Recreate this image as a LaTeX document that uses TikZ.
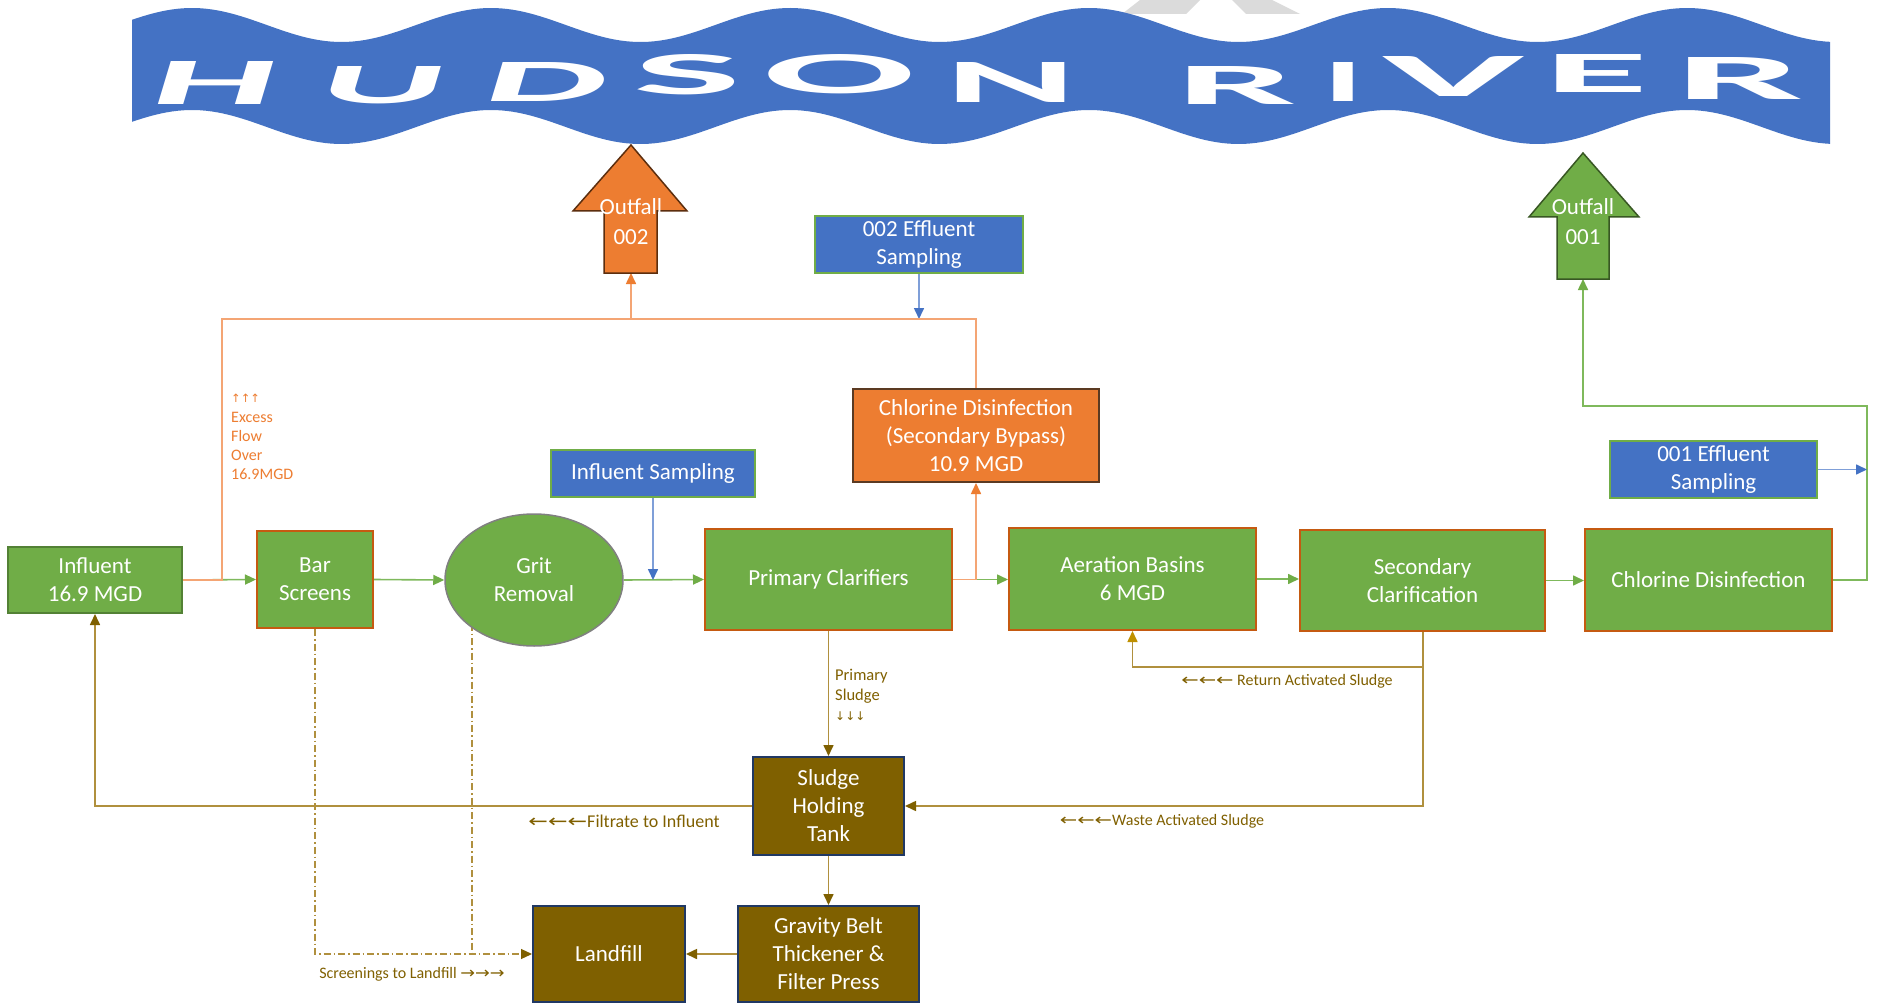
\documentclass[tikz,border=0pt]{standalone}
\usepackage{fontspec}
\setmainfont{Carlito}
\newfontfamily\symfont{DejaVu Sans}
\usetikzlibrary{arrows.meta,backgrounds,calc,shapes.geometric}

\definecolor{ogreen}{HTML}{70AD47}
\definecolor{oblue}{HTML}{4472C4}
\definecolor{oorange}{HTML}{ED7D31}
\definecolor{obrown}{HTML}{7F6000}
\definecolor{rustb}{HTML}{C55A11}
\definecolor{navyb}{HTML}{203864}
\definecolor{dgreen}{HTML}{538135}
\definecolor{lgreen}{HTML}{7FB95C}
\definecolor{lorange}{HTML}{F4A574}
\definecolor{lblue}{HTML}{7F9FD8}
\definecolor{goldl}{HTML}{B0903E}
\definecolor{goldt}{HTML}{806000}
\definecolor{goldtip}{HTML}{BF9000}
\definecolor{bypb}{HTML}{5B3A22}
\definecolor{o2b}{HTML}{5C2E0E}
\definecolor{o1b}{HTML}{385723}

\newcommand{\larr}{{\symfont\scalebox{1.3}[1]{←←←}}}
\newcommand{\rarr}{{\symfont\scalebox{1.1}[1]{→→→}}}

\begin{document}
\begin{tikzpicture}[x=1pt,y=-1pt,
  box/.style={rectangle, inner sep=0pt, align=center, text=white, font=\fontsize{23}{28}\selectfont},
  gbox/.style={box, fill=ogreen, draw=rustb, line width=2pt},
  bbox/.style={box, fill=oblue, draw=ogreen, line width=1.5pt},
  obox/.style={box, fill=oorange, draw=bypb, line width=2pt},
  brbox/.style={box, fill=obrown, draw=navyb, line width=2pt},
  tipg/.style={-{Triangle[length=11pt,width=10pt,color=ogreen]}},
  gline/.style={draw=lgreen, line width=1.6pt, tipg},
  oline/.style={draw=lorange, line width=1.6pt},
  otip/.style={oline, -{Triangle[length=11pt,width=10pt,color=oorange]}},
  bline/.style={draw=lblue, line width=1.6pt, -{Triangle[length=11pt,width=10pt,color=oblue]}},
  brline/.style={draw=goldl, line width=1.6pt},
  brtip/.style={brline, -{Triangle[length=11pt,width=10pt,color=obrown]}},
  ddline/.style={draw=goldl, line width=1.2pt, dash pattern=on 7pt off 3pt on 1.5pt off 3pt},
  lbl/.style={inner sep=0pt, text=goldt, font=\fontsize{16}{19}\selectfont},
  lblbig/.style={lbl, font=\fontsize{18}{22}\selectfont},
  banlet/.style={inner sep=0pt, text=white, font=\bfseries},
]
\useasboundingbox (0,0) rectangle (1877,1003);

% watermark remnants
\fill[gray!28] (1140,0) -- (1200,0) -- (1186,14) -- (1122,14) -- cycle;
\fill[gray!28] (1232,0) -- (1272,0) -- (1300,14) -- (1246,14) -- cycle;

% river banner
\fill[oblue] plot[domain=132:1830, samples=300] (\x, {25-17*cos(1.20401*(\x-192))})
  -- plot[domain=1830:132, samples=300] (\x, {127-17*cos(1.20401*(\x-192))}) -- cycle;
\begin{scope}[shift={(216,83.5)}, xslant=0.3]
  \node[banlet, transform shape] (lH) at (0,0) {\resizebox{124pt}{43pt}{H}};
\end{scope}
\begin{scope}[shift={(384,85)}, xslant=0.3]
  \node[banlet, transform shape] (lU) at (0,0) {\resizebox{124pt}{37pt}{U}};
\end{scope}
\begin{scope}[shift={(547,82.5)}, xslant=0.3]
  \node[banlet, transform shape] (lD) at (0,0) {\resizebox{122pt}{39pt}{D}};
\end{scope}
\node[banlet] (lS) at (687,75) {\resizebox{108pt}{40pt}{S}};
\node[banlet] (lO) at (840,74) {\resizebox{152pt}{39pt}{O}};
\node[banlet] (lN) at (1011.5,83) {\resizebox{131pt}{40pt}{N}};
\node[banlet] (lR) at (1237,86) {\resizebox{120pt}{38pt}{R}};
\node[banlet] (lI) at (1343,82.5) {\resizebox{40pt}{39pt}{I}};
\node[banlet] (lV) at (1453.5,77) {\resizebox{142pt}{40pt}{V}};
\node[banlet] (lE) at (1596.5,74) {\resizebox{104pt}{38pt}{E}};
\node[banlet] (lR2) at (1739.5,78.5) {\resizebox{128pt}{42pt}{R}};

% outfalls
\filldraw[fill=oorange, draw=o2b, line width=1.5pt] (604,273) -- (604,211) -- (573,211) -- (631,145) -- (687,211) -- (657,211) -- (657,273) -- cycle;
\node[box, font=\fontsize{23}{30}\selectfont] (out2) at (631,222) {Outfall\\002};
\filldraw[fill=ogreen, draw=o1b, line width=1.5pt] (1557,279) -- (1557,217) -- (1529,217) -- (1583,153) -- (1639,217) -- (1609,217) -- (1609,279) -- cycle;
\node[box, font=\fontsize{23}{30}\selectfont] (out1) at (1583,222) {Outfall\\001};
\coordinate (o2bot) at (631,273);
\coordinate (o1bot) at (1583,279);

% main nodes
\node[gbox, draw=dgreen, minimum width=174pt, minimum height=66pt] (infl) at (95,580) {Influent\\16.9 MGD};
\node[gbox, minimum width=116pt, minimum height=97pt] (bar) at (315,579.5) {Bar\\Screens};
\node[box, ellipse, fill=ogreen, draw=gray, line width=1.5pt, minimum width=178pt, minimum height=132pt] (grit) at (534,580) {Grit\\Removal};
\node[gbox, minimum width=247pt, minimum height=101pt] (prim) at (828.5,579.5) {Primary Clarifiers};
\node[gbox, minimum width=247pt, minimum height=102pt] (aer) at (1132.5,579) {Aeration Basins\\6 MGD};
\node[gbox, minimum width=245pt, minimum height=101pt] (sec) at (1422.5,580.5) {Secondary\\Clarification};
\node[gbox, minimum width=247pt, minimum height=102pt] (chl) at (1708.5,580) {Chlorine Disinfection};
\node[obox, minimum width=246pt, minimum height=93pt] (byp) at (976,435.5) {Chlorine Disinfection\\(Secondary Bypass)\\10.9 MGD};
\node[bbox, minimum width=204pt, minimum height=47pt] (infs) at (653,473.5) {Influent Sampling};
\node[bbox, minimum width=208pt, minimum height=57pt] (e002) at (919,244.5) {002 Effluent\\Sampling};
\node[bbox, minimum width=207pt, minimum height=57pt] (e001) at (1713.5,469.5) {001 Effluent\\Sampling};
\node[brbox, minimum width=151pt, minimum height=98pt] (sht) at (828.5,806) {Sludge\\Holding\\Tank};
\node[brbox, minimum width=181pt, minimum height=96pt] (gbt) at (828.5,954) {Gravity Belt\\Thickener \&\\Filter Press};
\node[brbox, minimum width=152pt, minimum height=96pt] (land) at (609,954) {Landfill};

% labels
\node[anchor=north west, align=left, inner sep=0pt, text=oorange, font=\fontsize{16}{19}\selectfont] (lexc) at (231,394) {{\symfont\fontsize{11.5}{14}\selectfont ↑↑↑}\\[1pt]Excess\\Flow\\Over\\16.9MGD};
\node[anchor=north west, align=left, lbl, font=\fontsize{16.5}{20}\selectfont] (lps) at (835,669) {Primary\\Sludge\\{\symfont\fontsize{12}{14}\selectfont ↓↓↓}};
\node[lbl] (lret) at (1287,681) {\larr\ Return Activated Sludge};
\node[lblbig] (lfil) at (624,821) {\larr Filtrate to Influent};
\node[lbl] (lwas) at (1162,821) {\larr Waste Activated Sludge};
\node[lbl] (lscr) at (412,974) {Screenings to Landfill \rarr};

% junction coordinates
\coordinate (jx) at (222,580);
\coordinate (jt) at (222,319);
\coordinate (rloop) at (1867,406);
\coordinate (sj) at (1423,667);
\coordinate (gd) at ($(grit.center)+(-62,0)$);

\begin{scope}[on background layer]
\fill[white] (0,0) rectangle (1877,1003);
% green flow
\draw[gline] (infl.east) -- (bar.west);
\draw[gline] (bar.east) -- (grit.west);
\draw[gline] (grit.east) -- (prim.west);
\draw[gline] (prim.east) -- (aer.west |- prim.east);
\draw[gline] (aer.east) -- (sec.west |- aer.east);
\draw[gline] (sec.east) -- (chl.west |- sec.east);
\draw[gline] (chl.east) -| (rloop) -| (o1bot);
% blue sampling
\draw[bline] (e001.east) -- (e001.east -| rloop);
\draw[bline] (infs.south) -- (infs.south |- grit.east);
\draw[bline] (e002.south) -- (e002.south |- jt);
% orange bypass
\draw[oline] (infl.east) -- (jx) -- (jt) -| (byp.north);
\draw[otip] (o2bot |- jt) -- (o2bot);
\draw[otip] (prim.east) -| (byp.south);
% sludge
\draw[brtip] (prim.south) -- (sht.north);
\draw[brline, -{Triangle[length=11pt,width=10pt,color=goldtip]}] (sec.south -| sj) -- (sj) -| (aer.south);
\draw[brtip] (sj) |- (sht.east);
\draw[brtip] (sht.west) -| (infl.south);
\draw[brtip] (sht.south) -- (gbt.north);
\draw[brtip] (gbt.west) -- (land.east);
\draw[ddline, -{Triangle[length=11pt,width=10pt,color=obrown]}] (bar.south) |- (land.west);
\draw[ddline] (gd) -- (gd |- land.west);
\end{scope}
\end{tikzpicture}
\end{document}
